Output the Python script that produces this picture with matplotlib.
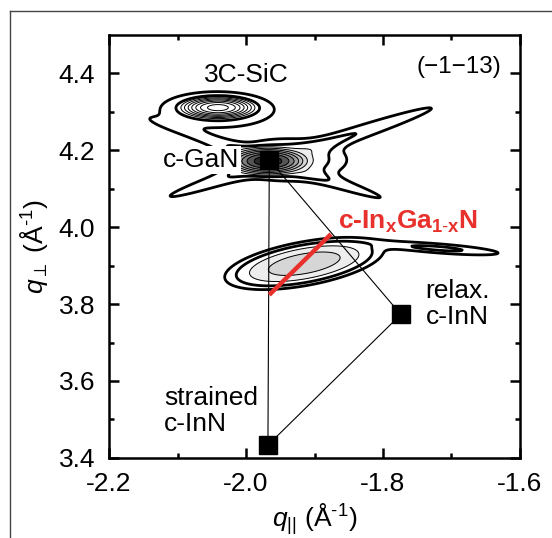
import numpy as np
import matplotlib
matplotlib.use("Agg")
import matplotlib.pyplot as plt
from matplotlib.lines import Line2D

plt.rcParams['font.family'] = ['Liberation Sans', 'DejaVu Sans']
plt.rcParams['mathtext.fontset'] = 'custom'
plt.rcParams['mathtext.rm'] = 'Liberation Sans'
plt.rcParams['mathtext.it'] = 'Liberation Sans:italic'
plt.rcParams['mathtext.bf'] = 'Liberation Sans:bold'

# reciprocal lattice points (q_par, q_perp)
pt_names = ["c-GaN", "relax. c-InN", "strained c-InN"]
pt_qx = [-1.966, -1.774, -1.968]
pt_qy = [4.175, 3.773, 3.433]

# InGaN composition line
red_qx = [-1.966, -1.876]
red_qy = [3.824, 3.982]

# intensity components of the map: centre, widths (major, minor), angle, amplitude
comp_name = ["SiC", "SiC base", "GaN", "GaN base", "streak1", "streak2", "InGaN", "tail"]
comp_x0 = [-2.041, -2.042, -1.968, -1.940, -1.920, -1.955, -1.915, -1.720]
comp_y0 = [4.311, 4.306, 4.172, 4.175, 4.195, 4.168, 3.905, 3.945]
comp_sa = [0.015, 0.050, 0.017, 0.046, 0.150, 0.130, 0.047, 0.060]
comp_sb = [0.0078, 0.028, 0.0100, 0.029, 0.012, 0.011, 0.021, 0.008]
comp_ang = [0.0, 0.0, 0.0, 0.0, 31.0, -31.0, 21.0, -8.0]
comp_amp = [2500.0, 4.0, 3000.0, 6.0, 3.0, 2.5, 30.0, 3.0]

levels = [1, 2.5, 6, 15, 40, 100, 250, 600, 1500, 4000, 1e9]
fill_cols = ['white', 'white', '#ededed', '#d6d6d6', '#bdbdbd', '#a0a0a0',
             '#808080', '#555555', '#2a2a2a', 'black']

qx = np.linspace(-2.2, -1.6, 700)
qy = np.linspace(3.4, 4.5, 650)
X, Y = np.meshgrid(qx, qy)


def component(i):
    a = np.deg2rad(comp_ang[i])
    dx = X - comp_x0[i]
    dy = Y - comp_y0[i]
    u = dx * np.cos(a) + dy * np.sin(a)
    v = -dx * np.sin(a) + dy * np.cos(a)
    return comp_amp[i] * np.exp(-0.5 * ((u / comp_sa[i])**2 + (v / comp_sb[i])**2))


total = sum(component(i) for i in range(len(comp_name)))
no_sic = sum(component(i) for i in range(2, len(comp_name)))

fig = plt.figure(figsize=(5.52, 5.38), dpi=100)
ax = fig.add_axes([0.1975, 0.149, 0.7445, 0.786])

ax.contourf(X, Y, no_sic, levels=levels, colors=fill_cols)
ax.contour(X, Y, total, levels=levels[:2], colors='black', linewidths=2.0)
ax.contour(X, Y, total, levels=levels[2:-1], colors='black', linewidths=0.7)

# tie lines between the lattice points
ax.plot([pt_qx[0], pt_qx[2]], [pt_qy[0], pt_qy[2]], color='black', lw=0.8)
ax.plot([pt_qx[0], pt_qx[1]], [pt_qy[0], pt_qy[1]], color='black', lw=0.8)
ax.plot([pt_qx[1], pt_qx[2]], [pt_qy[1], pt_qy[2]], color='black', lw=0.8)
ax.plot(red_qx, red_qy, color='#e8302c', lw=3.2, solid_capstyle='butt')
ax.plot(pt_qx, pt_qy, 's', color='black', ms=12.5, ls='none')

fs = 19
ax.text(-2.000, 4.395, "3C-SiC", fontsize=fs, ha='center', va='center')
ax.text(-2.122, 4.174, "c-GaN", fontsize=fs, ha='left', va='center',
        bbox=dict(facecolor='white', edgecolor='none', pad=1.5))
ax.text(-1.738, 3.800, "relax.\nc-InN", fontsize=fs, ha='left', va='center',
        linespacing=1.15)
ax.text(-2.120, 3.522, "strained\nc-InN", fontsize=fs, ha='left', va='center',
        linespacing=1.15)
ax.text(-1.866, 4.015, r'c-In$_{\mathbf{x}}$Ga$_{\mathbf{1\text{-}x}}$N', fontsize=fs,
        color='#e8302c', fontweight='bold', ha='left', va='center')
ax.text(0.955, 0.925, "(\u22121\u221213)", fontsize=17.5, ha='right', va='center',
        transform=ax.transAxes)

ax.set_xlim(-2.2, -1.6)
ax.set_ylim(3.4, 4.5)
ax.set_xticks([-2.2, -2.0, -1.8, -1.6])
ax.set_xticklabels(["-2.2", "-2.0", "-1.8", "-1.6"])
ax.set_xticks([-2.1, -1.9, -1.7], minor=True)
ax.set_yticks([3.4, 3.6, 3.8, 4.0, 4.2, 4.4])
ax.set_yticks([3.5, 3.7, 3.9, 4.1, 4.3], minor=True)
ax.tick_params(which='both', direction='in', top=True, right=True,
               labelsize=fs, width=1.8)
ax.tick_params(which='major', length=7, pad=10)
ax.tick_params(which='minor', length=3.5)
for s in ax.spines.values():
    s.set_linewidth(1.8)

ax.set_xlabel(r'$q_{||}$ (Å$^{\text{-}1}$)', fontsize=fs, labelpad=4)
ax.set_ylabel(r'$q_{\perp}$ (Å$^{\text{-}1}$)', fontsize=fs, labelpad=6)

# thin outer frame of the figure panel
fig.add_artist(Line2D([10 / 552, 10 / 552], [0, 1 - 11 / 538], transform=fig.transFigure,
                      color='#444444', lw=1.0))
fig.add_artist(Line2D([10 / 552, 1], [1 - 11 / 538, 1 - 11 / 538], transform=fig.transFigure,
                      color='#444444', lw=1.0))

fig.savefig("out.png", dpi=100)
